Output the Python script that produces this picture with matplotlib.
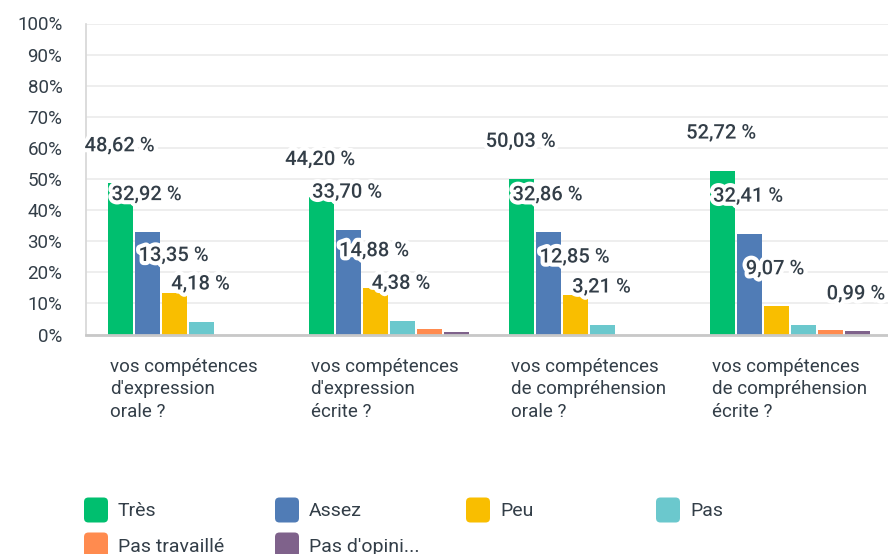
import matplotlib
matplotlib.use("Agg")
import numpy as np
import matplotlib.pyplot as plt
import matplotlib.patheffects as pe
from matplotlib.patches import FancyBboxPatch
from matplotlib.transforms import blended_transform_factory

plt.rcParams['font.family'] = ['Roboto', 'DejaVu Sans']

categories = ["vos compétences\nd'expression\norale ?",
              "vos compétences\nd'expression\nécrite ?",
              "vos compétences\nde compréhension\norale ?",
              "vos compétences\nde compréhension\nécrite ?"]
series = ["Très", "Assez", "Peu", "Pas", "Pas travaillé", "Pas d'opini..."]
tres = [48.62, 44.20, 50.03, 52.72]
assez = [32.92, 33.70, 32.86, 32.41]
peu = [13.35, 14.88, 12.85, 9.07]
pas = [4.18, 4.38, 3.21, 2.90]
pas_trav = [0.0, 1.90, 0.0, 1.30]
pas_opin = [0.0, 0.90, 0.0, 0.99]
# labels the original chart actually displays (others hidden by overlap)
shown = [[1, 1, 1, 1, 0, 0],
         [1, 1, 1, 1, 0, 0],
         [1, 1, 1, 1, 0, 0],
         [1, 1, 1, 0, 0, 1]]
colors = ["#00bf6f", "#507cb6", "#f9be00", "#6bc8cd", "#ff8b4f", "#7f628b"]

values = [tres, assez, peu, pas, pas_trav, pas_opin]
W, H = 888, 554
fig = plt.figure(figsize=(W / 100, H / 100), dpi=100)
ax = fig.add_axes([86 / W, (H - 334.5) / H, (W - 86) / W, 311 / H])

txt_col = "#333e48"
x = np.arange(len(categories))
pitch = 0.1345
bw = 0.125
for j, (name, vals) in enumerate(zip(series, values)):
    xs = x + (j - 2.5) * pitch + 0.01
    ax.bar(xs, vals, width=bw, color=colors[j], zorder=2)
for j, vals in enumerate(values):
    xs = x + (j - 2.5) * pitch + 0.01
    for i in range(len(categories)):
        if shown[i][j]:
            lab = "{:.2f} %".format(vals[i]).replace(".", ",")
            ax.annotate(lab, (xs[i], vals[i]), xytext=(-1, 27), textcoords="offset points",
                        ha="center", va="center", fontsize=14.5, fontweight="medium",
                        color=txt_col, zorder=5,
                        path_effects=[pe.withStroke(linewidth=6, foreground="white")])

ax.set_xlim(-0.5, 3.5)
ax.set_ylim(0, 100)
ax.set_yticks(np.arange(0, 101, 10))
ax.set_yticklabels(["{}%".format(v) for v in range(0, 101, 10)])
ax.tick_params(axis="y", length=0, pad=17, labelsize=13.5, labelcolor=txt_col)
ax.set_xticks([])
ax.grid(axis="y", color="#ebebeb", linewidth=1.2, zorder=0)
for s in ["top", "right"]:
    ax.spines[s].set_visible(False)
ax.spines["left"].set_color("#d6d6d6")
ax.spines["left"].set_linewidth(1.2)
ax.spines["bottom"].set_color("#c8c8c8")
ax.spines["bottom"].set_linewidth(2)
ax.spines["bottom"].set_zorder(3)

trans = blended_transform_factory(ax.transData, fig.transFigure)
for i, cat in enumerate(categories):
    ax.text(i - 0.4 + 0.02, (H - 358) / H, cat, transform=trans, ha="left", va="top",
            fontsize=13.5, color=txt_col, linespacing=1.32)

# legend
leg_x = [84, 275, 466, 656]
leg_y = [510, 545]
for j, name in enumerate(series):
    cx = leg_x[j % 4]
    cy = leg_y[j // 4]
    box = FancyBboxPatch(((cx) / W, (H - cy - 12.5) / H), 24 / W, 25 / H,
                         boxstyle="round,pad=0,rounding_size=0.005",
                         mutation_aspect=W / H,
                         transform=fig.transFigure, facecolor=colors[j], edgecolor="none")
    fig.add_artist(box)
    fig.text((cx + 34) / W, (H - cy - 1.5) / H, name, ha="left", va="center",
             fontsize=14, color=txt_col)

fig.savefig("out.png", dpi=100)
